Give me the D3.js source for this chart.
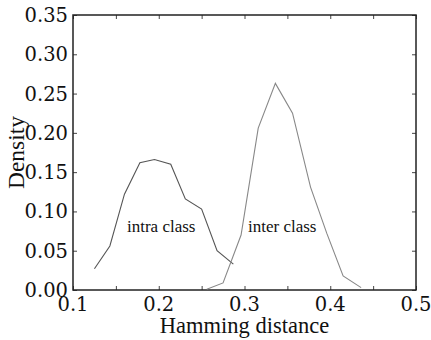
<!DOCTYPE html>
<html>
<head>
<meta charset="utf-8">
<script src="https://cdn.jsdelivr.net/npm/d3@7"></script>
<style>
  body { margin: 0; background: #fff; }
</style>
</head>
<body>
<svg id="chart"></svg>
<script>
// values
const intraX = [0.125, 0.143, 0.160, 0.178, 0.195, 0.214, 0.231, 0.250, 0.268, 0.287];
const intraY = [0.027, 0.056, 0.122, 0.162, 0.166, 0.160, 0.116, 0.103, 0.050, 0.033];
const interX = [0.256, 0.275, 0.296, 0.316, 0.336, 0.356, 0.377, 0.396, 0.415, 0.436];
const interY = [0.001, 0.009, 0.070, 0.206, 0.263, 0.225, 0.131, 0.072, 0.018, 0.003];
const xTicks = [0.1, 0.2, 0.3, 0.4, 0.5];
const xMinor = [0.15, 0.25, 0.35, 0.45];
const yTicks = [0, 0.05, 0.10, 0.15, 0.20, 0.25, 0.30, 0.35];

const width = 431, height = 340;
const margin = { top: 15, right: 15, bottom: 50, left: 73 };
const serif = "'Liberation Serif', 'DejaVu Serif', serif";
const tickFont = "'DejaVu Serif', serif";

const svg = d3.select("#chart")
    .attr("width", width)
    .attr("height", height);

const x = d3.scaleLinear().domain([0.1, 0.5]).range([margin.left, width - margin.right]);
const y = d3.scaleLinear().domain([0, 0.35]).range([height - margin.bottom, margin.top]);

const tickLen = 4;

// ticks on all four sides, pointing inward
function ticks(axis, tx, ty) {
  svg.append("g")
    .attr("transform", `translate(${tx},${ty})`)
    .call(axis.tickSize(-tickLen).tickFormat(""))
    .call(g => g.select(".domain").remove())
    .call(g => g.selectAll("line").attr("stroke", "#444"));
}
ticks(d3.axisBottom(x).tickValues(xTicks.concat(xMinor)), 0, y(0));
ticks(d3.axisTop(x).tickValues(xTicks.concat(xMinor)), 0, y(0.35));
ticks(d3.axisLeft(y).tickValues(yTicks), x(0.1), 0);
ticks(d3.axisRight(y).tickValues(yTicks), x(0.5), 0);

// tick labels
svg.append("g").selectAll("text")
  .data(xTicks)
  .join("text")
  .attr("x", d => x(d))
  .attr("y", y(0) + 21)
  .attr("text-anchor", "middle")
  .attr("font-family", tickFont)
  .attr("font-size", 19.5)
  .attr("fill", "#111")
  .text(d => d3.format(".1f")(d));

svg.append("g").selectAll("text")
  .data(yTicks)
  .join("text")
  .attr("x", x(0.1) - 5)
  .attr("y", d => y(d) + 7)
  .attr("text-anchor", "end")
  .attr("font-family", tickFont)
  .attr("font-size", 19.5)
  .attr("fill", "#111")
  .text(d => d3.format(".2f")(d));

// frame
svg.append("rect")
  .attr("x", x(0.1))
  .attr("y", y(0.35))
  .attr("width", x(0.5) - x(0.1))
  .attr("height", y(0) - y(0.35))
  .attr("fill", "none")
  .attr("stroke", "#222")
  .attr("stroke-width", 1.5);

const line = d3.line().x(d => x(d[0])).y(d => y(d[1]));

svg.append("path")
  .datum(d3.zip(intraX, intraY))
  .attr("d", line)
  .attr("fill", "none")
  .attr("stroke", "#555")
  .attr("stroke-width", 1.1);

svg.append("path")
  .datum(d3.zip(interX, interY))
  .attr("d", line)
  .attr("fill", "none")
  .attr("stroke", "#888")
  .attr("stroke-width", 1.1);

// curve labels
svg.append("text")
  .attr("x", 127).attr("y", 232)
  .attr("font-family", serif)
  .attr("font-size", 17)
  .attr("fill", "#111")
  .text("intra class");

svg.append("text")
  .attr("x", 248).attr("y", 232)
  .attr("font-family", serif)
  .attr("font-size", 17)
  .attr("fill", "#111")
  .text("inter class");

// axis titles
svg.append("text")
  .attr("x", (x(0.1) + x(0.5)) / 2)
  .attr("y", 333)
  .attr("text-anchor", "middle")
  .attr("font-family", serif)
  .attr("font-size", 22.5)
  .attr("fill", "#111")
  .text("Hamming distance");

svg.append("text")
  .attr("transform", `translate(24,${(y(0) + y(0.35)) / 2}) rotate(-90)`)
  .attr("text-anchor", "middle")
  .attr("font-family", serif)
  .attr("font-size", 23.5)
  .attr("fill", "#111")
  .text("Density");
</script>
</body>
</html>
